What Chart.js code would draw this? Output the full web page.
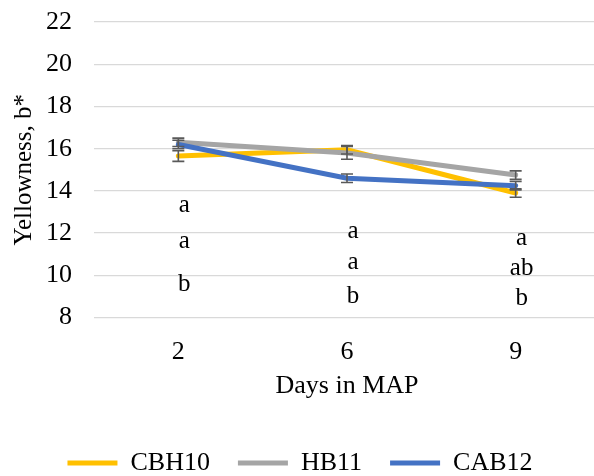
<!DOCTYPE html>
<html>
<head>
<meta charset="utf-8">
<script src="https://cdn.jsdelivr.net/npm/chart.js@4.4.1/dist/chart.umd.min.js"></script>
<style>
  html, body { margin: 0; padding: 0; background: #fff; overflow: hidden; }
  #wrap { width: 600px; height: 476px; }
</style>
</head>
<body>
<div id="wrap"><canvas id="bChart"></canvas></div>
<script>
var days = ["2", "6", "9"];

var cbh10 = [15.65, 15.95, 13.9];
var hb11 = [16.3, 15.8, 14.75];
var cab12 = [16.2, 14.6, 14.25];

var cbh10Err = [0.25, 0.2, 0.2];
var hb11Err = [0.2, 0.3, 0.2];
var cab12Err = [0.2, 0.2, 0.2];

var yTicks = [8, 10, 12, 14, 16, 18, 20, 22];

// significance letters, one row per series, one column per day
var letters = [
  ["a", "a", "a"],
  ["a", "a", "ab"],
  ["b", "b", "b"]
];
// where each letter row sits, in b* units
var letterLevels = [
  [13.3, 12.1, 11.75],
  [11.6, 10.6, 10.35],
  [9.55, 9.0, 8.9]
];

var serif = "'Liberation Serif', 'Times New Roman', serif";

Chart.defaults.font.family = serif;
Chart.defaults.font.size = 26;
Chart.defaults.color = "#000";

var errorBars = {
  id: "errorBars",
  afterDatasetsDraw: function (chart) {
    var ctx = chart.ctx;
    var x = chart.scales.x, y = chart.scales.y;
    ctx.save();
    ctx.strokeStyle = "#595959";
    ctx.lineWidth = 1.6;
    chart.data.datasets.forEach(function (ds) {
      ds.data.forEach(function (v, i) {
        var px = x.getPixelForValue(i);
        var top = y.getPixelForValue(v + ds.err[i]);
        var bot = y.getPixelForValue(v - ds.err[i]);
        ctx.beginPath();
        ctx.moveTo(px, top); ctx.lineTo(px, bot);
        ctx.moveTo(px - 6, top); ctx.lineTo(px + 6, top);
        ctx.moveTo(px - 6, bot); ctx.lineTo(px + 6, bot);
        ctx.stroke();
      });
    });
    ctx.restore();
  }
};

var letterLabels = {
  id: "letterLabels",
  afterDraw: function (chart) {
    var ctx = chart.ctx;
    var x = chart.scales.x, y = chart.scales.y;
    ctx.save();
    ctx.font = "25px " + serif;
    ctx.fillStyle = "#000";
    ctx.textAlign = "center";
    ctx.textBaseline = "middle";
    letters.forEach(function (row, r) {
      row.forEach(function (t, i) {
        ctx.fillText(t, x.getPixelForValue(i) + 6, y.getPixelForValue(letterLevels[r][i]));
      });
    });
    ctx.restore();
  }
};

function series(label, values, err, color, order) {
  return {
    label: label,
    data: values,
    err: err,
    borderColor: color,
    backgroundColor: color,
    borderWidth: 5,
    borderCapStyle: "round",
    pointRadius: 0,
    pointStyle: "line",
    tension: 0,
    fill: false,
    order: order
  };
}

new Chart(document.getElementById("bChart"), {
  type: "line",
  data: {
    labels: days,
    datasets: [
      series("CBH10", cbh10, cbh10Err, "#FFC000", 3),
      series("HB11", hb11, hb11Err, "#A5A5A5", 2),
      series("CAB12", cab12, cab12Err, "#4472C4", 1)
    ]
  },
  options: {
    responsive: true,
    maintainAspectRatio: false,
    animation: false,
    layout: { padding: { top: 22, left: 0, right: 0, bottom: -10 } },
    plugins: {
      tooltip: { enabled: false },
      legend: {
        position: "bottom",
        labels: {
          usePointStyle: true,
          pointStyleWidth: 50,
          padding: 28,
          font: { size: 26 },
          sort: function (a, b) { return a.datasetIndex - b.datasetIndex; }
        }
      }
    },
    scales: {
      x: {
        offset: true,
        grid: { display: false },
        border: { display: false },
        ticks: { padding: 11 },
        title: {
          display: true,
          text: "Days in MAP",
          padding: { top: -8, bottom: 20 }
        }
      },
      y: {
        min: 8,
        max: 22,
        afterBuildTicks: function (axis) {
          axis.ticks = yTicks.map(function (v) { return { value: v }; });
        },
        // transparent tick marks keep the gap between labels and grid
        grid: { color: "#D9D9D9", lineWidth: 1.3, tickLength: 22, tickColor: "rgba(0,0,0,0)" },
        border: { display: false },
        ticks: { padding: 0 },
        title: {
          display: true,
          text: "Yellowness, b*",
          font: { size: 25 },
          padding: { top: 9, bottom: 7 }
        }
      }
    }
  },
  plugins: [errorBars, letterLabels]
});
</script>
</body>
</html>
